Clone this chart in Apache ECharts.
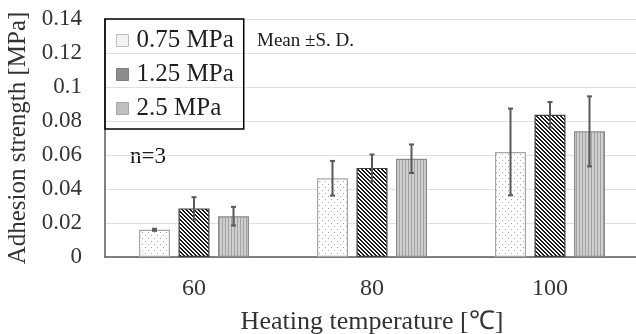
<!DOCTYPE html>
<html>
<head>
<meta charset="utf-8">
<script src="https://cdn.jsdelivr.net/npm/echarts@6/dist/echarts.min.js"></script>
<style>
html,body{margin:0;padding:0;background:#fff;}
#chart{width:636px;height:334px;}
</style>
</head>
<body>
<div id="chart"></div>
<script>
// ---- data ----
var categories = ['60', '80', '100'];
var seriesNames = ['0.75 MPa', '1.25 MPa', '2.5 MPa'];
var mean075 = [0.016, 0.0463, 0.0618];
var sd075   = [0.0006, 0.0102, 0.0255];
var mean125 = [0.0286, 0.0524, 0.0837];
var sd125   = [0.0066, 0.0079, 0.0075];
var mean25  = [0.024, 0.0578, 0.0739];
var sd25    = [0.0055, 0.0084, 0.0206];
var yTicks  = ['0', '0.02', '0.04', '0.06', '0.08', '0.1', '0.12', '0.14'];

// ---- patterns ----
function makeCanvas(w, h, draw) {
  var c = document.createElement('canvas');
  c.width = w; c.height = h;
  draw(c.getContext('2d'));
  return c;
}
var dotPattern = makeCanvas(6, 6, function (ctx) {
  ctx.fillStyle = '#ffffff'; ctx.fillRect(0, 0, 6, 6);
  ctx.fillStyle = '#a8a8a8';
  ctx.fillRect(1, 1, 1, 1);
  ctx.fillRect(4, 4, 1, 1);
});
var diagPattern = makeCanvas(4, 4, function (ctx) {
  ctx.fillStyle = '#ffffff'; ctx.fillRect(0, 0, 4, 4);
  ctx.fillStyle = '#1a1a1a';
  for (var y = 0; y < 4; y++) {
    for (var x = 0; x < 4; x++) {
      var d = ((x - y) % 4 + 4) % 4;
      if (d === 0 || d === 1) ctx.fillRect(x, y, 1, 1);
    }
  }
});
var vertPattern = makeCanvas(3, 2, function (ctx) {
  ctx.fillStyle = '#cfcfcf'; ctx.fillRect(0, 0, 3, 2);
  ctx.fillStyle = '#a3a3a3'; ctx.fillRect(0, 0, 1, 2);
});

var BAR_W = 31;
var GAP = 8.5;
var FONT = '"Liberation Serif", "Times New Roman", serif';
var TXT = '#333333';

var means = [mean075, mean125, mean25];
var sds = [sd075, sd125, sd25];
var fills = [
  { image: dotPattern, repeat: 'repeat' },
  { image: diagPattern, repeat: 'repeat' },
  { image: vertPattern, repeat: 'repeat' }
];
var borders = ['#a6a6a6', '#404040', '#8c8c8c'];
var legendColors = ['#f2f2f2', '#8c8c8c', '#bfbfbf'];
var legendBorders = ['#bfbfbf', '#7f7f7f', '#a6a6a6'];

var series = [];
seriesNames.forEach(function (name, i) {
  series.push({
    name: name,
    type: 'bar',
    barWidth: BAR_W,
    barGap: (GAP / BAR_W * 100) + '%',
    data: means[i],
    itemStyle: { color: fills[i], borderColor: borders[i], borderWidth: 1.2 }
  });
});
seriesNames.forEach(function (name, i) {
  var errData = categories.map(function (c, k) { return [k, means[i][k], sds[i][k]]; });
  series.push({
    type: 'custom',
    silent: true,
    z: 10,
    data: errData,
    renderItem: function (params, api) {
      var k = api.value(0), m = api.value(1), s = api.value(2);
      var off = (i - 1) * (BAR_W + GAP);
      var top = api.coord([k, m + s]);
      var bot = api.coord([k, m - s]);
      var x = top[0] + off;
      var capHalf = 2.5;
      var st = { stroke: '#595959', lineWidth: 2 };
      return {
        type: 'group',
        children: [
          { type: 'line', shape: { x1: x, y1: top[1], x2: x, y2: bot[1] }, style: st },
          { type: 'line', shape: { x1: x - capHalf, y1: top[1], x2: x + capHalf, y2: top[1] }, style: st },
          { type: 'line', shape: { x1: x - capHalf, y1: bot[1], x2: x + capHalf, y2: bot[1] }, style: st }
        ]
      };
    }
  });
});

var chart = echarts.init(document.getElementById('chart'), null, { renderer: 'canvas' });
chart.setOption({
  animation: false,
  backgroundColor: '#ffffff',
  textStyle: { fontFamily: FONT },
  grid: { left: 105, top: 19, width: 534, height: 238, containLabel: false, outerBoundsMode: 'none' },
  legend: {
    orient: 'vertical',
    left: 105,
    top: 19,
    padding: [9, 10, 8, 11],
    itemGap: 9,
    itemWidth: 12,
    itemHeight: 12,
    borderColor: '#000000',
    borderWidth: 1.5,
    icon: 'rect',
    textStyle: { fontFamily: FONT, fontSize: 25, color: '#1f1f1f', padding: [0, 0, 0, 3] },
    data: seriesNames.map(function (n, i) {
      return { name: n, itemStyle: { color: legendColors[i], borderColor: legendBorders[i], borderWidth: 1 } };
    })
  },
  xAxis: {
    type: 'category',
    data: categories,
    name: 'Heating temperature [℃]',
    nameLocation: 'middle',
    nameGap: 52,
    nameTextStyle: { fontFamily: FONT, fontSize: 26, color: TXT },
    axisLine: { lineStyle: { color: '#595959', width: 1.5 } },
    axisTick: { show: false },
    axisLabel: { fontFamily: FONT, fontSize: 24, color: TXT, margin: 20 }
  },
  yAxis: {
    type: 'value',
    min: 0,
    max: 0.14,
    interval: 0.02,
    name: 'Adhesion strength [MPa]',
    nameLocation: 'middle',
    nameGap: 72,
    nameTextStyle: { fontFamily: FONT, fontSize: 25, color: TXT },
    axisLine: { show: true, lineStyle: { color: '#595959', width: 1.5 } },
    axisTick: { show: false },
    splitLine: { lineStyle: { color: '#e0e0e0', width: 1 } },
    axisLabel: {
      fontFamily: FONT, fontSize: 23, color: TXT, margin: 23,
      formatter: function (v) { return yTicks[Math.round(v / 0.02)]; }
    }
  },
  graphic: [
    { type: 'text', left: 257, top: 32, style: { text: 'Mean ±S. D.', font: '19px ' + FONT, fill: '#1a1a1a' } },
    { type: 'text', left: 130, top: 145, style: { text: 'n=3', font: '23px ' + FONT, fill: '#1a1a1a' } }
  ],
  series: series
});
</script>
</body>
</html>
